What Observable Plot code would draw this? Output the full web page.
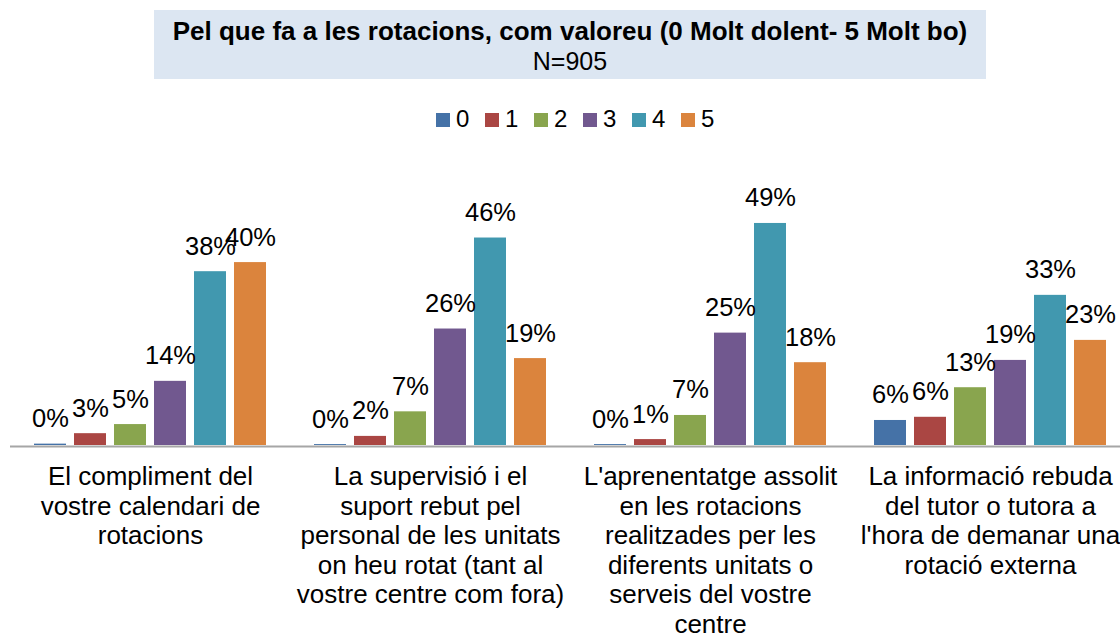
<!DOCTYPE html>
<html><head><meta charset="utf-8">
<script src="https://cdn.jsdelivr.net/npm/d3@7"></script>
<script src="https://cdn.jsdelivr.net/npm/@observablehq/plot@0.6"></script>
<style>
body{margin:0;background:#fff;font-family:"Liberation Sans",Arial,sans-serif;width:1120px;height:638px;position:relative;overflow:hidden;color:#000}
#titlebox{position:absolute;left:154px;top:10px;width:832px;height:69px;background:#DCE6F2;text-align:center;white-space:nowrap}
#t1{position:absolute;left:0;right:0;top:6px;font-size:26px;font-weight:bold;line-height:30px}
#t2{position:absolute;left:0;right:0;top:36px;font-size:25px;line-height:30px}
#legend{position:absolute;left:436px;top:107px;display:flex;font-size:24px;line-height:24px}
.item{display:flex;align-items:center;width:49px}
.sw{width:14px;height:14px;margin-right:6px;margin-top:1px}
#chart{position:absolute;left:0;top:135px}
</style></head>
<body>
<div id="titlebox"><div id="t1"></div><div id="t2"></div></div>
<div id="legend"></div>
<div id="chart"></div>
<script>
const titleText = "Pel que fa a les rotacions, com valoreu (0 Molt dolent- 5 Molt bo)";
const subtitleText = "N=905";
const ratings = ["0", "1", "2", "3", "4", "5"];
const colors = ["#4572A7", "#AA4643", "#89A54E", "#71588F", "#4198AF", "#DB843D"];
const categories = [
  "El compliment del\nvostre calendari de\nrotacions",
  "La supervisió i el\nsuport rebut pel\npersonal de les unitats\non heu rotat (tant al\nvostre centre com fora)",
  "L'aprenentatge assolit\nen les rotacions\nrealitzades per les\ndiferents unitats o\nserveis del vostre\ncentre",
  "La informació rebuda\ndel tutor o tutora a\nl'hora de demanar una\nrotació externa"
];
// percentages per rating 0..5
const calendari = [0.3, 2.6, 4.6, 14.1, 38.2, 40.2];
const supervisio = [0.2, 2.0, 7.4, 25.6, 45.6, 19.1];
const aprenentatge = [0.2, 1.3, 6.6, 24.7, 48.8, 18.2];
const informacio = [5.5, 6.2, 12.7, 18.7, 33.0, 23.1];
const series = [calendari, supervisio, aprenentatge, informacio];

document.getElementById("t1").textContent = titleText;
document.getElementById("t2").textContent = subtitleText;
const lg = document.getElementById("legend");
ratings.forEach((r, i) => {
  const it = document.createElement("div"); it.className = "item";
  const sw = document.createElement("div"); sw.className = "sw"; sw.style.background = colors[i];
  const lb = document.createElement("span"); lb.textContent = r;
  it.appendChild(sw); it.appendChild(lb); lg.appendChild(it);
});

const data = [];
categories.forEach((c, ci) => ratings.forEach((r, ri) => data.push({cat: c, rating: r, value: series[ci][ri]})));

const H = 503;
const chart = Plot.plot({
  width: 1120,
  height: H,
  marginTop: 82.5,
  marginBottom: 193,
  marginLeft: 10,
  marginRight: 0,
  style: {fontFamily: "'Liberation Sans', Arial, sans-serif", background: "transparent", color: "#000"},
  fx: {domain: categories, range: [10, 1130], padding: 0, axis: null},
  x: {domain: ratings, paddingInner: 0.2, paddingOuter: 0.6, axis: null},
  y: {domain: [0, 50], range: [310, 82.5], axis: null},
  color: {domain: ratings, range: colors},
  marks: [
    Plot.barY(data, {fx: "cat", x: "rating", y: "value", fill: "rating"}),
    Plot.ruleY([0], {stroke: "#A6A6A6", strokeWidth: 2, dy: 1}),
    Plot.text(data, {fx: "cat", x: "rating", y: "value", text: d => Math.round(d.value) + "%", dy: -17, lineAnchor: "bottom", fontSize: 25.5, fill: "#000"}),
    Plot.text(categories, {fx: d => d, text: d => d, frameAnchor: "bottom", lineAnchor: "top", dy: 18.5, fontSize: 26, lineHeight: 29.6/26, fill: "#000"})
  ]
});
document.getElementById("chart").appendChild(chart);
</script>
</body></html>
